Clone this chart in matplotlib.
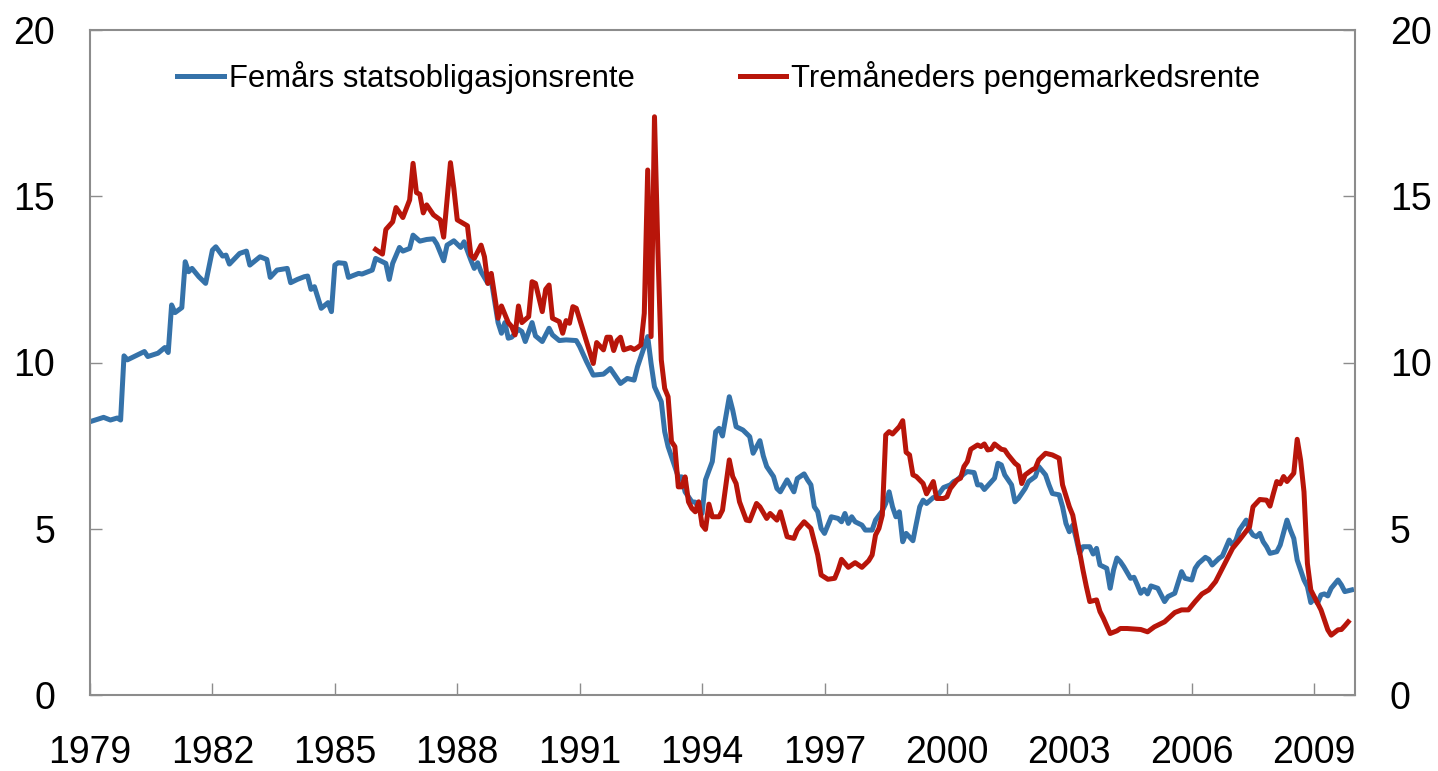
import matplotlib
matplotlib.use("Agg")
import matplotlib.pyplot as plt

plt.rcParams['font.family'] = ['Liberation Sans', 'DejaVu Sans']

# months counted from January 1979
bond_month = [0, 4, 6, 8, 9, 10, 11, 16, 17, 20, 22, 23, 24, 25, 27, 28, 29, 30, 32, 34,
              36, 37, 39, 40, 41, 44, 46, 47, 50, 52, 53, 55, 58, 59, 61, 63, 64, 65, 66, 68,
              70, 71, 72, 73, 75, 76, 79, 80, 83, 84, 87, 88, 89, 91, 92, 94, 95, 97, 99, 101,
              102, 104, 105, 107, 109, 110, 112, 113, 114, 115, 117, 118, 120, 121, 122, 123, 124, 126, 127, 128,
              130, 131, 133, 135, 136, 138, 140, 143, 144, 146, 148, 151, 153, 154, 156, 158, 160, 161, 164, 165,
              166, 168, 169, 170, 171, 173, 174, 175, 177, 178, 180, 181, 183, 184, 185, 186, 188, 189, 190, 192,
              194, 195, 197, 198, 199, 201, 202, 203, 205, 207, 208, 210, 211, 212, 213, 214, 215, 216, 218, 220,
              221, 222, 223, 224, 225, 227, 228, 230, 231, 233, 234, 235, 236, 237, 238, 239, 240, 242, 243, 244,
              245, 246, 248, 249, 251, 253, 254, 255, 257, 258, 260, 261, 262, 263, 266, 267, 268, 269, 271, 272,
              273, 275, 276, 278, 279, 281, 282, 283, 285, 286, 287, 288, 289, 290, 291, 292, 294, 295, 296, 297,
              299, 300, 301, 302, 303, 304, 306, 307, 308, 309, 310, 311, 312, 314, 316, 317, 319, 321, 322, 324,
              325, 326, 328, 329, 330, 332, 333, 335, 336, 337, 338, 340, 341, 342, 343, 344, 345, 346, 347, 349,
              350, 352, 353, 354, 355, 357, 358, 359, 360, 361, 362, 363, 364, 365, 367, 368, 369, 371]
bond_rate = [8.22, 8.35, 8.27, 8.33, 8.27, 10.2, 10.08, 10.33, 10.18, 10.28, 10.45, 10.30, 11.73, 11.5, 11.65, 13.03, 12.73, 12.83, 12.58, 12.38,
             13.38, 13.48, 13.2, 13.23, 12.96, 13.28, 13.35, 12.93, 13.18, 13.1, 12.56, 12.78, 12.83, 12.40, 12.5, 12.58, 12.6, 12.2, 12.28, 11.63,
             11.8, 11.53, 12.93, 13.0, 12.98, 12.56, 12.68, 12.66, 12.78, 13.13, 12.98, 12.5, 12.98, 13.46, 13.35, 13.43, 13.83, 13.65, 13.7, 13.72,
             13.56, 13.06, 13.53, 13.66, 13.46, 13.63, 13.08, 12.83, 13.0, 12.73, 12.38, 12.48, 11.2, 10.88, 11.2, 10.73, 10.76, 11.0, 10.93, 10.63,
             11.2, 10.80, 10.63, 11.03, 10.83, 10.66, 10.68, 10.66, 10.48, 10.03, 9.62, 9.65, 9.82, 9.67, 9.37, 9.52, 9.47, 9.87, 10.78, 9.97,
             9.27, 8.82, 7.92, 7.47, 7.17, 6.56, 6.56, 6.11, 5.81, 5.8, 5.46, 6.47, 7.02, 7.92, 8.02, 7.79, 8.97, 8.57, 8.07, 7.97,
             7.77, 7.27, 7.65, 7.19, 6.87, 6.57, 6.21, 6.11, 6.47, 6.11, 6.51, 6.65, 6.47, 6.32, 5.66, 5.51, 5.01, 4.86, 5.36, 5.31,
             5.21, 5.46, 5.16, 5.36, 5.21, 5.11, 4.96, 4.96, 5.26, 5.54, 5.76, 6.11, 5.66, 5.36, 5.51, 4.61, 4.86, 4.64, 5.16, 5.66,
             5.86, 5.76, 5.94, 5.96, 6.24, 6.32, 6.42, 6.47, 6.65, 6.72, 6.69, 6.32, 6.32, 6.18, 6.52, 6.97, 6.92, 6.62, 6.32, 5.81,
             5.91, 6.21, 6.42, 6.57, 6.87, 6.62, 6.32, 6.06, 6.02, 5.66, 5.16, 4.91, 5.11, 4.71, 4.26, 4.46, 4.46, 4.24, 4.41, 3.91,
             3.81, 3.21, 3.76, 4.12, 4.01, 3.86, 3.51, 3.54, 3.31, 3.06, 3.18, 3.04, 3.28, 3.21, 2.81, 2.96, 3.06, 3.71, 3.51, 3.46,
             3.81, 3.96, 4.14, 4.08, 3.91, 4.11, 4.18, 4.66, 4.51, 4.66, 4.96, 5.26, 4.96, 4.81, 4.76, 4.86, 4.61, 4.46, 4.26, 4.31,
             4.51, 5.26, 4.96, 4.71, 4.06, 3.46, 3.26, 2.78, 2.91, 2.76, 3.01, 3.04, 2.98, 3.21, 3.46, 3.31, 3.11, 3.16]

money_month = [84, 86, 87, 89, 90, 92, 94, 95, 96, 97, 98, 99, 101, 103, 104, 105, 106, 107, 108, 110,
               111, 112, 113, 115, 116, 117, 118, 120, 121, 123, 124, 125, 126, 127, 129, 130, 131, 133, 134, 135,
               136, 138, 139, 140, 141, 142, 143, 148, 149, 151, 152, 153, 154, 155, 156, 157, 159, 160, 161, 162,
               163, 164, 165, 166, 167, 168, 169, 170, 171, 172, 173, 174, 175, 176, 177, 178, 179, 180, 181, 182,
               183, 185, 186, 188, 189, 190, 191, 193, 194, 196, 197, 199, 200, 202, 203, 205, 207, 208, 210, 212,
               214, 215, 217, 219, 220, 221, 223, 225, 227, 229, 230, 231, 232, 233, 234, 235, 236, 238, 239, 240,
               241, 242, 243, 245, 246, 248, 249, 251, 252, 253, 255, 256, 257, 258, 259, 261, 262, 263, 264, 265,
               266, 268, 269, 270, 272, 273, 274, 275, 277, 278, 279, 281, 283, 285, 286, 288, 289, 290, 292, 293,
               294, 296, 297, 298, 300, 302, 303, 305, 309, 311, 313, 316, 319, 321, 323, 325, 327, 329, 331, 332,
               334, 336, 338, 341, 342, 344, 346, 347, 348, 349, 350, 351, 352, 354, 355, 356, 357, 358, 359, 362,
               364, 365, 367, 368, 369, 370]
money_rate = [13.4, 13.26, 14.0, 14.23, 14.66, 14.36, 14.89, 15.99, 15.11, 15.06, 14.5, 14.74, 14.44, 14.29, 13.77, 14.89, 16.01, 15.23, 14.29, 14.17,
              14.11, 13.23, 13.13, 13.53, 13.18, 12.38, 12.68, 11.33, 11.7, 11.2, 11.08, 10.83, 11.7, 11.2, 11.38, 12.43, 12.38, 11.53, 12.2, 12.33,
              11.33, 11.23, 10.88, 11.26, 11.18, 11.68, 11.63, 9.97, 10.6, 10.38, 10.76, 10.76, 10.36, 10.66, 10.76, 10.38, 10.45, 10.39, 10.45, 10.53,
              11.48, 15.79, 10.78, 17.39, 13.38, 10.08, 9.22, 8.97, 7.62, 7.47, 6.26, 6.26, 6.56, 5.81, 5.61, 5.51, 5.81, 5.11, 4.98, 5.74,
              5.36, 5.36, 5.56, 7.07, 6.57, 6.36, 5.81, 5.26, 5.24, 5.76, 5.66, 5.31, 5.46, 5.26, 5.51, 4.76, 4.71, 4.96, 5.21, 5.01,
              4.21, 3.61, 3.48, 3.51, 3.76, 4.08, 3.84, 3.98, 3.84, 4.04, 4.21, 4.81, 5.01, 5.41, 7.82, 7.92, 7.85, 8.07, 8.25, 7.3,
              7.22, 6.62, 6.57, 6.36, 6.05, 6.42, 5.91, 5.91, 5.96, 6.21, 6.47, 6.52, 6.87, 7.02, 7.39, 7.52, 7.47, 7.55, 7.37, 7.39,
              7.55, 7.39, 7.37, 7.22, 6.97, 6.89, 6.36, 6.62, 6.77, 6.82, 7.07, 7.27, 7.22, 7.12, 6.32, 5.66, 5.41, 4.86, 3.76, 3.26,
              2.81, 2.86, 2.51, 2.31, 1.85, 1.93, 2.0, 2.0, 1.97, 1.90, 2.05, 2.2, 2.48, 2.56, 2.56, 2.81, 3.04, 3.16, 3.41, 3.61,
              4.01, 4.41, 4.66, 5.06, 5.66, 5.88, 5.86, 5.68, 6.06, 6.42, 6.35, 6.57, 6.42, 6.67, 7.69, 7.07, 6.11, 3.96, 3.16, 2.56,
              1.96, 1.80, 1.96, 1.97, 2.08, 2.2]

year_ticks = list(range(1979, 2010, 3))
y_ticks = [0, 5, 10, 15, 20]

blue = "#3572a9"
red = "#b8150a"
grey = "#8c8c8c"

fig = plt.figure(figsize=(14.38, 7.71), dpi=100)
ax = fig.add_axes([90/1438, 1-695/771, 1265/1438, 665/771])

ax.plot([1979 + m/12 for m in bond_month], bond_rate, color=blue, lw=3.6, label="Femårs statsobligasjonsrente")
ax.plot([1979 + m/12 for m in money_month], money_rate, color=red, lw=3.6, label="Tremåneders pengemarkedsrente")

ax.set_xlim(1979, 2010)
ax.set_ylim(0, 20)
ax.set_xticks(year_ticks)
ax.set_xticklabels([str(y) for y in year_ticks])
ax.set_yticks(y_ticks)
ax.tick_params(axis="both", direction="in", length=8.5, width=1, color=grey, labelsize=27)
ax.tick_params(axis="x", pad=29)
ax.tick_params(axis="y", pad=25, right=True, labelright=True)
for s in ax.spines.values():
    s.set_color(grey)
    s.set_linewidth(1.5)

ax.legend(loc="upper center", bbox_to_anchor=(0.497, 0.995), ncol=2, frameon=False,
          fontsize=22.3, handlelength=1.5, handletextpad=0.15, columnspacing=3.4)

plt.savefig("out.png", dpi=100)
plt.close()
